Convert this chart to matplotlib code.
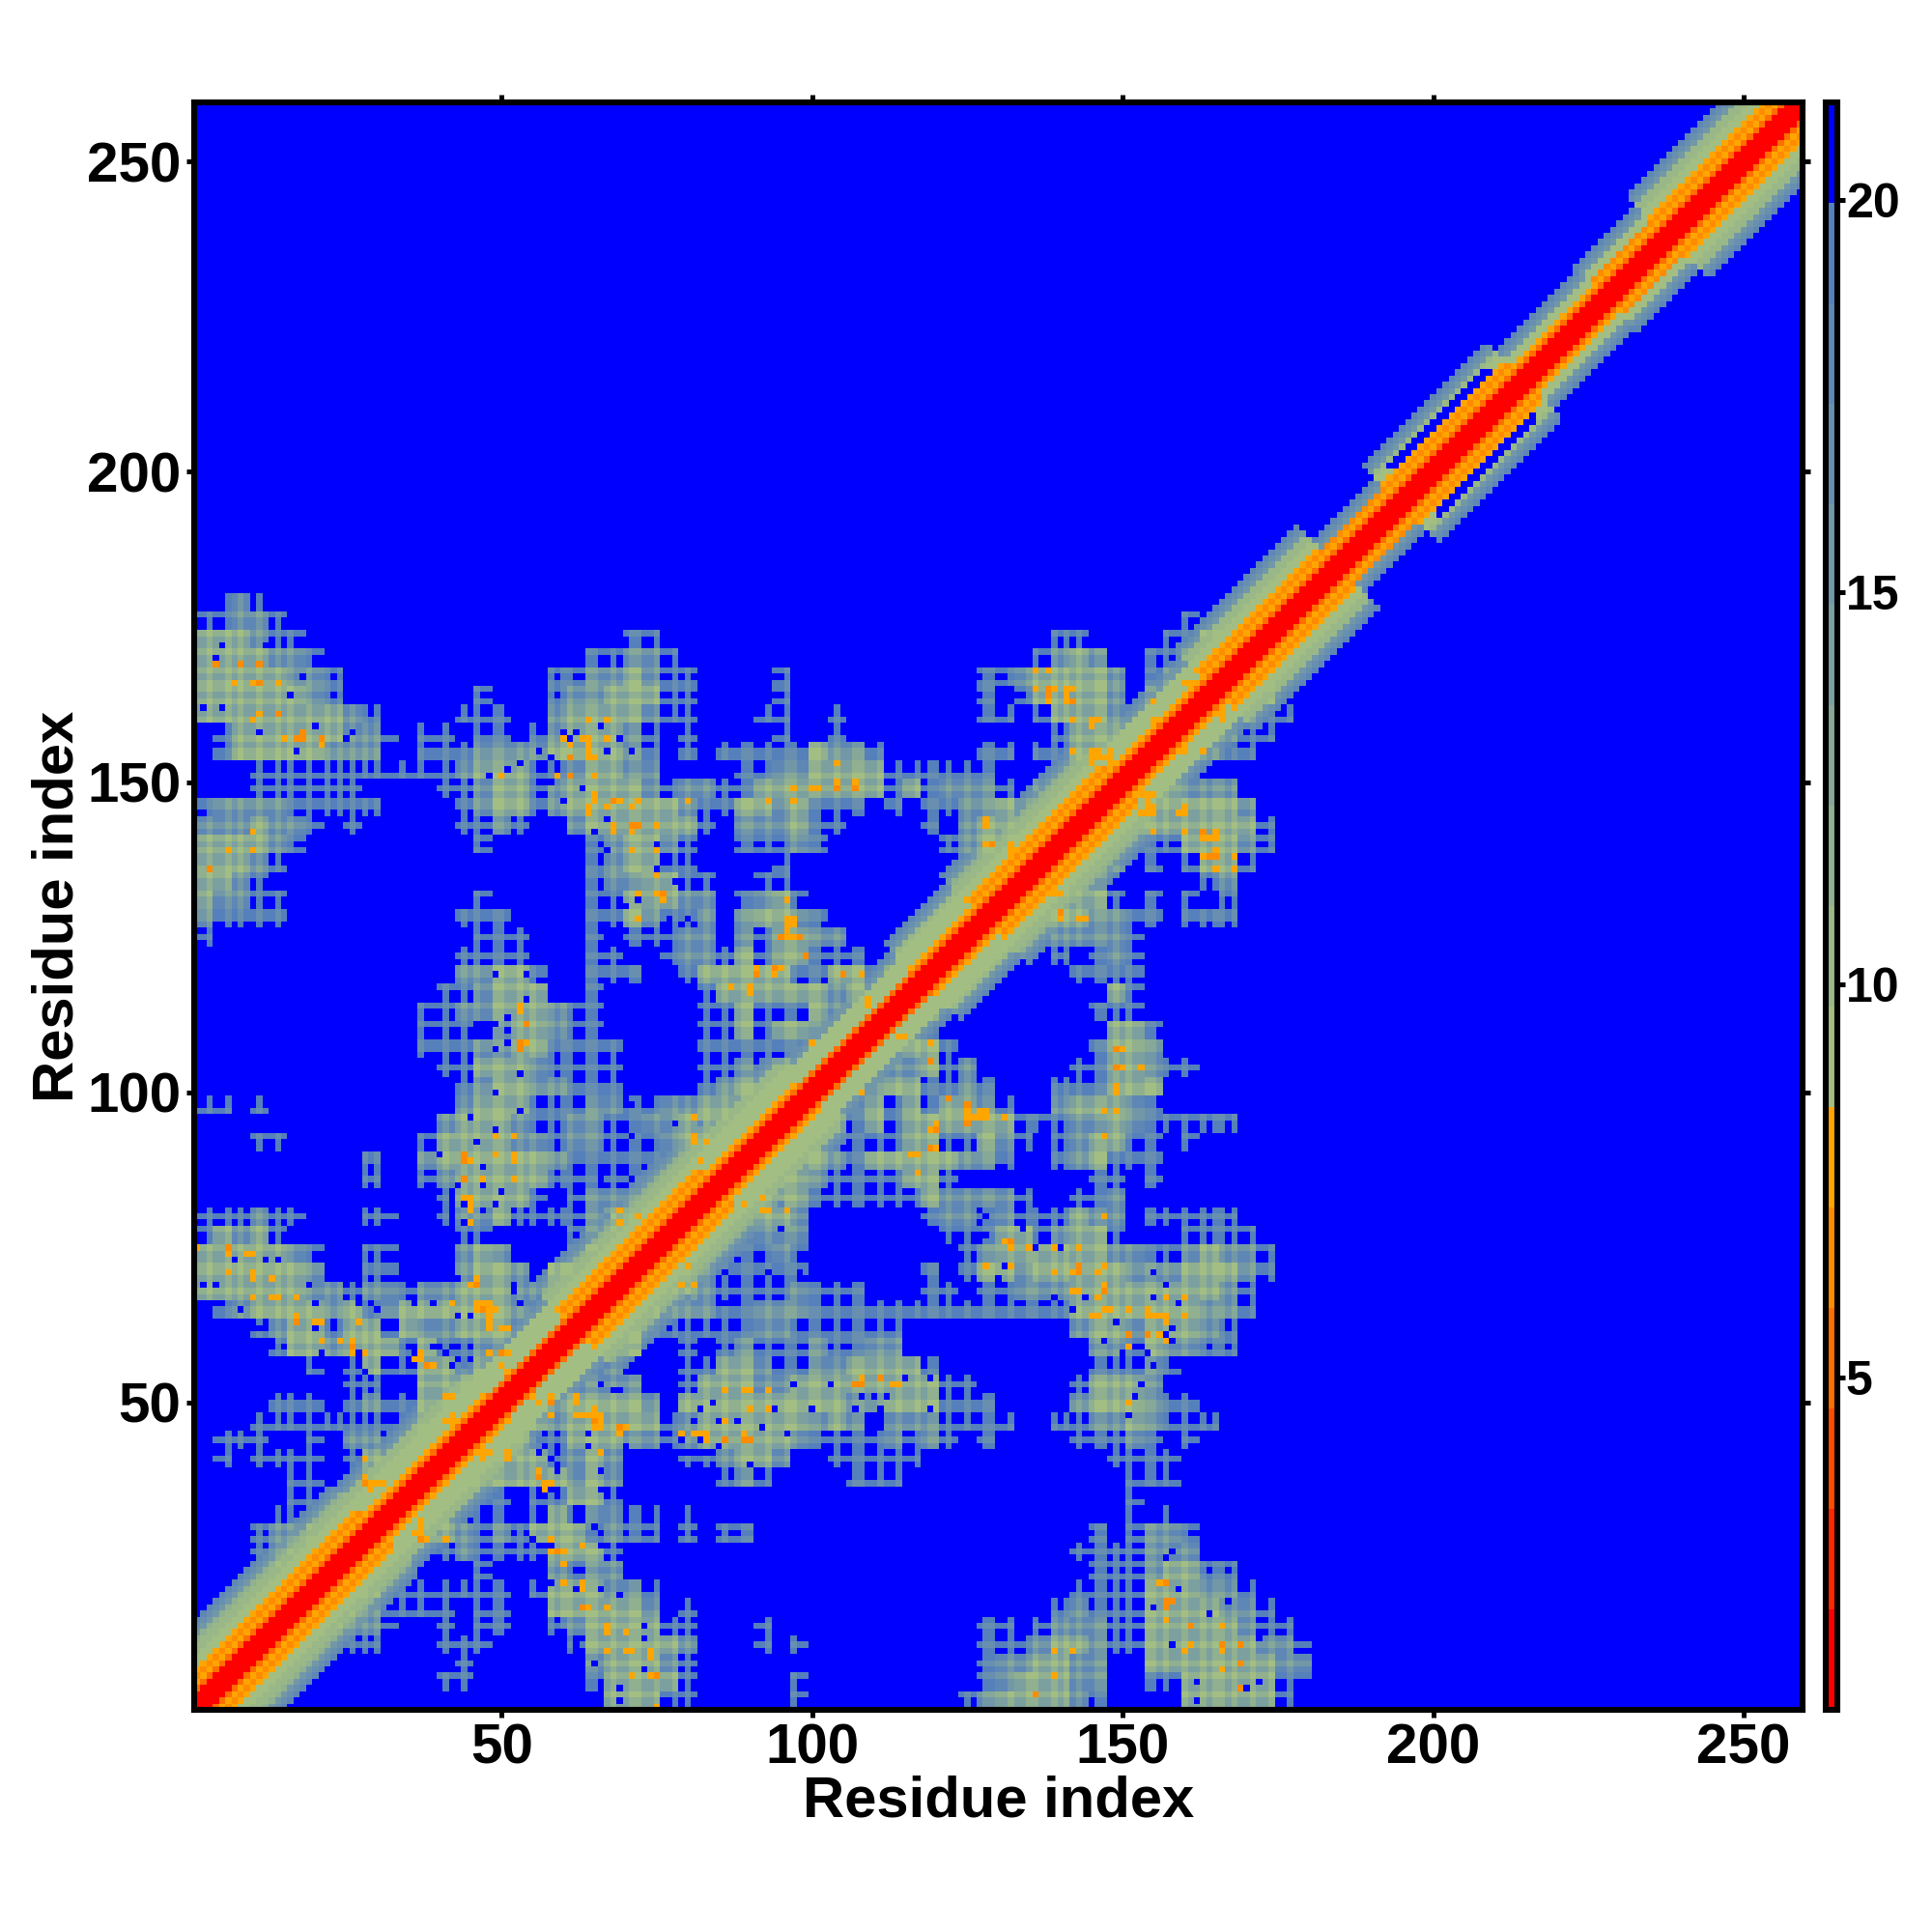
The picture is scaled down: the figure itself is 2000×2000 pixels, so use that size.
import numpy as np
import matplotlib
matplotlib.use("Agg")
import matplotlib.pyplot as plt
from matplotlib.colors import ListedColormap, BoundaryNorm

plt.rcParams['font.family'] = ['Liberation Sans', 'DejaVu Sans']
plt.rcParams['font.weight'] = 'bold'

n_res = 259
ticks = [50, 100, 150, 200, 250]
cbar_ticks = [5, 10, 15, 20]

# colour classes of the scale bar (16 steps of about 1.28)
bounds = [0.76, 2.04, 3.32, 4.6, 5.88, 7.16, 8.44, 9.72, 11.0, 12.28, 13.56,
          14.84, 16.12, 17.4, 18.68, 19.96, 21.24]
colours = ['#ff0000', '#ff2600', '#ff4d00', '#ff6e00', '#ff8c00', '#ffa500',
           '#a3be83', '#9ab887', '#90b08f', '#86a898', '#7ca09f', '#7298a8',
           '#688fb0', '#5f87b5', '#5580bc', '#0000ff']

# typical distance for i-j sequence offset along the diagonal
offset_dist = [1.0, 1.5, 2.0, 5.6, 7.7, 6.7, 8.0, 9.0, 9.3, 9.8, 10.5, 11.5,
               12.6, 14.0, 15.5, 17.0, 18.4, 19.5]
# band along the diagonal, piece by piece
seg_start = [1, 30, 50, 62, 85, 100, 118, 128, 150, 165, 185, 195, 215, 228, 238]
seg_end = [29, 49, 61, 84, 99, 117, 127, 149, 164, 184, 194, 214, 227, 237, 259]
seg_reach = [14, 13, 11, 14, 13, 10, 12, 14, 11, 13, 8, 12, 9, 10, 13]
seg_core = [6, 4, 3, 6, 4, 3, 4, 6, 4, 6, 5, 6, 4, 5, 6]
gap_mid = [197, 212]
gap_offsets = [7, 8]

# residues whose rows/columns show up as lines through the sparse areas
reach_res = [3, 6, 8, 11, 14, 16, 19, 22, 24, 26, 28, 30, 34, 37, 41, 44, 46,
             49, 50, 53, 55, 58, 60, 61, 64, 65, 68, 71, 72, 75, 78, 80, 83,
             86, 89, 90, 93, 96, 97, 100, 101, 104, 107, 108, 111, 114, 117,
             119, 120, 122, 125, 128, 129, 132, 135, 136, 139, 141, 143, 146,
             147, 149, 151, 154, 155, 157, 160, 163, 165, 166, 168, 171, 174,
             177]

# contact map read in blocks of 3 residues, y block: "x block:classes ..."
class_dist = {'s': 20.0, 'b': 15.5, 'g': 12.5}
block_rows = {
    59: "1:sbs",
    58: "0:ssbbs 53:s",
    57: "0:gggbss 23:ss 46:ss 52:ssgg",
    56: "0:ggggbbs 21:ssbbs 45:sbgb 51:ssbgg",
    55: "0:gggggbbs 19:ssbbgbs 26:s 31:s 42:s 43:sbggggb 51:sbgg",
    54: "0:ggggggbs 15:s 19:sbbgggss 31:s 42:s 44:sggggb 51:bggg",
    53: "0:ggggggggbs 14:sss 19:bggggbs 26:s 30:ss 34:s 42:ss 45:sgggbsbg",
    52: "1:sggggggbbs 12:s 13:s 15:ss 18:sbgggbs 26:s 31:s 34:s 46:sgggbg",
    51: "1:sgggggbbb 12:sssbbbbggggbs 26:s 28:sssssgbbs 42:ss 45:ssgggg",
    50: "3:ssssssss 11:sssbgggssbggbb 29:ssbbggggssssss 47:bgg",
    49: "3:ssssss 13:ssbggsbggggbsbbssgggggggsgsbbbs 45:bbgg",
    48: "0:sbbbbsss 8:ss 14:sbggsbggggggbssggbgsss 37:s 39:ssbbgbbbg",
    47: "0:bbbgbbs 8:s 14:ssbs 20:bggggggs 29:bbbgss 39:s 41:bggbbg",
    46: "0:ggggbs 15:s 21:sbggbs 29:sssbs 40:sbgggg",
    45: "0:gggbs 21:sbggss 31:s 41:sggg",
    44: "0:ggbs 21:sbbggss 30:ss 41:sgb",
    43: "0:gbbss 15:s 21:ssgggbb 29:sbgs 40:sgg",
    42: "0:bssss 14:sss 21:ssgbssb 29:bggbs 39:sgg",
    41: "0:s 15:sss 21:s 23:sss 26:bb 29:bsggbb 38:sb",
    40: "14:ssss 21:ss 25:sbbsg 30:sggsss 37:sg",
    39: "14:bbggs 21:sss 26:sgggggssggsgg",
    38: "13:ssbggg 21:s 27:sggggggbgbg",
    37: "12:ssbbgggbss 27:ssgsssgbbg",
    36: "12:sss 16:bggbss 27:ssgsggbbg",
    35: "12:sssbbggssss 27:ssssssgg",
    34: "13:ssgggbssss 27:ssbsgs",
    33: "14:sbggbbsss 27:sbgsbg",
    32: "0:ss 3:s 14:bgggsssbbssbbggggg",
    31: "13:bgggbssbbssbbgggggg",
    30: "3:ss 12:sggggbbsbbsssbgggg",
    29: "9:s 12:bggggggbsssssssgg",
    28: "9:s 12:sbgggggssssssssg",
    27: "13:sggggs 20:sbbbggg",
    26: "0:sssbs 5:s 9:ss 13:sbbgss 19:s 20:sbgggg",
    25: "0:sgbgs 14:ss 20:sbggg",
    24: "0:gggggbs 9:ss 14:bgb 20:sgggg",
    23: "0:ggggggb 9:ss 14:bggb 19:ggg",
    22: "0:ggggggbbsbbsbbgggbbsgg",
    21: "1:sbggggbgsbggggggbsg",
    20: "3:sbggsggsgbbgggssg",
    19: "4:sggbgggsgssbbgg",
    18: "6:s 8:sgssggsggg",
    17: "8:ss 12:ggggg",
    16: "4:sss 8:sbssgggg",
    15: "3:sssssssssgg",
    14: "1:sss 6:s 8:bbssg",
    13: "1:s 3:ssss 8:sgsg",
    12: "5:ss 8:sggg",
    11: "5:ss 8:ssg",
    10: "4:ssss 8:sg",
    9: "3:sbbggg",
    8: "3:sbggg",
    7: "3:sggg",
}

# blue cells inside the dense patches (x, y)
holes = [(4, 170), (5, 172), (12, 172), (18, 167), (16, 164), (2, 162), (5, 162),
         (11, 158), (20, 159), (26, 158), (25, 157), (17, 155), (61, 157), (60, 158),
         (62, 158), (66, 159), (67, 155), (69, 157), (71, 155), (58, 154), (56, 155),
         (53, 153), (51, 152), (48, 151), (58, 150), (63, 149), (60, 147), (67, 144),
         (65, 142), (75, 140), (67, 139), (75, 136), (78, 134), (72, 131), (70, 130),
         (77, 128), (80, 128), (49, 119), (54, 119), (54, 115), (51, 112), (49, 111),
         (51, 110), (51, 108), (49, 107), (53, 103), (49, 100), (53, 97), (45, 96),
         (49, 94), (46, 92), (82, 95), (67, 95), (69, 95), (71, 98), (78, 95), (67, 92),
         (71, 93), (44, 90), (40, 90), (47, 88), (43, 85), (47, 85), (50, 84), (42, 83),
         (44, 82), (47, 81), (49, 82), (42, 80), (44, 79), (67, 80), (66, 86), (71, 86),
         (67, 85), (74, 86), (78, 84), (7, 73), (12, 73), (14, 73), (2, 69), (4, 69),
         (19, 69), (20, 66), (8, 65), (27, 66), (30, 65), (36, 66), (39, 66), (43, 70),
         (43, 64), (45, 64), (52, 69), (53, 66), (55, 66), (52, 63), (53, 61), (59, 64),
         (11, 62), (13, 60), (20, 62), (21, 58), (27, 58), (28, 55), (33, 57), (36, 58),
         (39, 59), (41, 58), (42, 56), (45, 57), (55, 58), (48, 55), (58, 55), (63, 56),
         (63, 55), (61, 53), (66, 55), (68, 52)]

# single close contacts seen as orange cells (x, y)
orange_dark = [(4, 169), (8, 169), (11, 169), (11, 166), (14, 161), (18, 158),
               (18, 157), (17, 157), (21, 157), (3, 136), (61, 154), (61, 151),
               (68, 147), (71, 143), (72, 143), (76, 132), (54, 111), (53, 108),
               (53, 107), (44, 90), (44, 89), (44, 86), (6, 75), (17, 63),
               (26, 59), (46, 69), (47, 65), (50, 58), (38, 56), (28, 37),
               (138, 165), (138, 164), (142, 163), (129, 140), (164, 138),
               (165, 138), (140, 129), (105, 119), (95, 125), (98, 125),
               (99, 122), (120, 94), (119, 91), (149, 107), (149, 104)]
orange_light = [(7, 166), (10, 166), (14, 166), (11, 161), (10, 160), (15, 157),
                (21, 156), (10, 142), (6, 139), (10, 139), (50, 151), (60, 157),
                (61, 156), (59, 151), (63, 157), (64, 157), (64, 156), (64, 155),
                (64, 154), (65, 154), (65, 151), (64, 160), (67, 160), (67, 157),
                (65, 148), (65, 147), (64, 146), (67, 146), (69, 147), (72, 147),
                (71, 146), (64, 145), (68, 143), (75, 143), (68, 142), (71, 142),
                (71, 139), (75, 139), (75, 135), (72, 132), (75, 132), (76, 131),
                (72, 128), (80, 147), (53, 114), (53, 113), (54, 108), (91, 120),
                (91, 119), (87, 117), (90, 117), (81, 96), (81, 93), (81, 92),
                (83, 92), (49, 93), (52, 93), (49, 90), (52, 90), (52, 89),
                (45, 89), (47, 86), (52, 86), (44, 83), (45, 83), (45, 81),
                (45, 79), (69, 81), (69, 79), (72, 80), (73, 79), (73, 78),
                (73, 76), (79, 82), (82, 89), (1, 75), (6, 74), (9, 74), (10, 74),
                (6, 71), (10, 71), (10, 70), (13, 70), (10, 67), (13, 67),
                (14, 67), (17, 67), (17, 64), (20, 63), (21, 63), (27, 63),
                (21, 60), (24, 60), (26, 60), (26, 58), (28, 58), (37, 58),
                (36, 57), (37, 57), (39, 56), (46, 70), (45, 69), (42, 66),
                (46, 66), (47, 66), (48, 66), (46, 65), (49, 65), (48, 64),
                (48, 63), (48, 62), (50, 62), (51, 62), (48, 58), (51, 58),
                (50, 56), (51, 55), (59, 62), (41, 51), (42, 51), (42, 48),
                (41, 47), (42, 47), (43, 47), (44, 47), (42, 46), (43, 46),
                (28, 41), (38, 41), (28, 38), (29, 37), (30, 37), (29, 36),
                (32, 35), (20, 26), (20, 25), (21, 25), (21, 24), (62, 51),
                (62, 48), (63, 48), (64, 48), (65, 48), (66, 48), (66, 47),
                (66, 46), (69, 46), (66, 42), (83, 45), (79, 45), (81, 45),
                (82, 45), (86, 44), (89, 44), (89, 45), (86, 52), (89, 52),
                (90, 52), (90, 49), (86, 47), (56, 39), (56, 38), (57, 37),
                (58, 37), (57, 36), (63, 17), (64, 17), (67, 17), (67, 14),
                (67, 13), (70, 13), (67, 10), (70, 10), (71, 10), (74, 10),
                (74, 9), (71, 6), (74, 6), (75, 6), (63, 27), (63, 21), (63, 20),
                (60, 21), (60, 24), (59, 26), (60, 26), (58, 28), (37, 31),
                (37, 29), (36, 29), (37, 28), (38, 28), (41, 28), (26, 20),
                (26, 21), (104, 153), (97, 149), (100, 149), (101, 149),
                (104, 150), (104, 149), (107, 150), (107, 149), (93, 147),
                (97, 147), (136, 168), (138, 168), (136, 165), (141, 165),
                (142, 165), (141, 164), (142, 160), (145, 160), (146, 160),
                (145, 159), (142, 155), (145, 155), (146, 154), (145, 153),
                (148, 155), (148, 153), (128, 144), (128, 143), (128, 140),
                (132, 140), (132, 139), (135, 140), (154, 148), (155, 148),
                (154, 147), (155, 146), (154, 145), (155, 145), (160, 145),
                (159, 145), (155, 142), (160, 142), (163, 142), (165, 142),
                (163, 141), (165, 141), (163, 138), (165, 139), (168, 138),
                (165, 136), (168, 136), (140, 132), (139, 132), (140, 128),
                (143, 128), (144, 128), (155, 163), (155, 160), (160, 166),
                (161, 166), (166, 162), (166, 160), (163, 155), (96, 131),
                (96, 128), (97, 128), (96, 127), (97, 127), (96, 126), (95, 120),
                (94, 119), (108, 119), (90, 116), (100, 108), (114, 109),
                (115, 109), (119, 108), (119, 105), (108, 100), (150, 107),
                (150, 104), (153, 104), (149, 101), (149, 100), (147, 97),
                (149, 97), (147, 93), (122, 99), (125, 98), (125, 97), (125, 96),
                (126, 96), (127, 96), (128, 96), (127, 97), (128, 97), (131, 96),
                (125, 95), (119, 94), (120, 91), (117, 90)]

# build the matrix from the readings above
shift = np.full(n_res + 1, 1.0)
shift[reach_res] = -1.5
dist = np.full((n_res, n_res), 30.0)
for row, text in block_rows.items():
    for part in text.split():
        start, classes = part.split(':')
        for c, name in enumerate(classes):
            col = int(start) + c
            for y in range(3 * row + 1, 3 * row + 4):
                for x in range(3 * col + 1, 3 * col + 4):
                    v = class_dist[name] + shift[x] + shift[y]
                    dist[y - 1, x - 1] = v
                    dist[x - 1, y - 1] = v

for x, y in holes:
    dist[y - 1, x - 1] = dist[x - 1, y - 1] = 30.0
for x, y in orange_light:
    dist[y - 1, x - 1] = dist[x - 1, y - 1] = 7.7
for x, y in orange_dark:
    dist[y - 1, x - 1] = dist[x - 1, y - 1] = 6.4

for s0, s1, reach, core in zip(seg_start, seg_end, seg_reach, seg_core):
    for mid in range(s0, s1 + 1):
        for off in range(reach + 1):
            if gap_mid[0] <= mid <= gap_mid[1] and off in gap_offsets:
                v = 30.0
            elif off > core and off < 7:
                v = 8.8
            else:
                v = offset_dist[off]
            # the reach of a piece cuts the far end of the profile
            if off >= reach - 2:
                v = max(v, 15.5 + off - reach + 2)
            a = mid - off // 2
            b = mid + off - off // 2
            if 1 <= a and b <= n_res:
                dist[a - 1, b - 1] = min(dist[a - 1, b - 1], v) if v < 30 else 30.0
                dist[b - 1, a - 1] = dist[a - 1, b - 1]

cmap = ListedColormap(colours)
cmap.set_over('#0000ff')
norm = BoundaryNorm(bounds, cmap.N)

fig = plt.figure(figsize=(20, 20), dpi=100)
ax = fig.add_axes([201 / 2000, 230 / 2000, 1665 / 2000, 1664 / 2000])
cax = fig.add_axes([1889.5 / 2000, 230 / 2000, 12 / 2000, 1664 / 2000])

im = ax.imshow(dist, origin='lower', extent=[0.5, n_res + 0.5, 0.5, n_res + 0.5],
               cmap=cmap, norm=norm, interpolation='nearest', aspect='auto')
ax.set_xticks(ticks)
ax.set_yticks(ticks)
ax.tick_params(axis='both', direction='out', length=5.8, width=3.6, labelsize=42,
               top=True, right=True, pad=4)
ax.set_xlabel('Residue index', fontsize=43, fontweight='bold', labelpad=0)
ax.set_ylabel('Residue index', fontsize=43, fontweight='bold', labelpad=2)
for sp in ax.spines.values():
    sp.set_linewidth(4.4)

cb = fig.colorbar(im, cax=cax, ticks=cbar_ticks, spacing='proportional')
cb.ax.minorticks_off()
cb.ax.tick_params(direction='out', length=5.8, width=3.6, labelsize=36, pad=1)
cb.outline.set_linewidth(4.4)

fig.savefig('out.png', dpi=100)
